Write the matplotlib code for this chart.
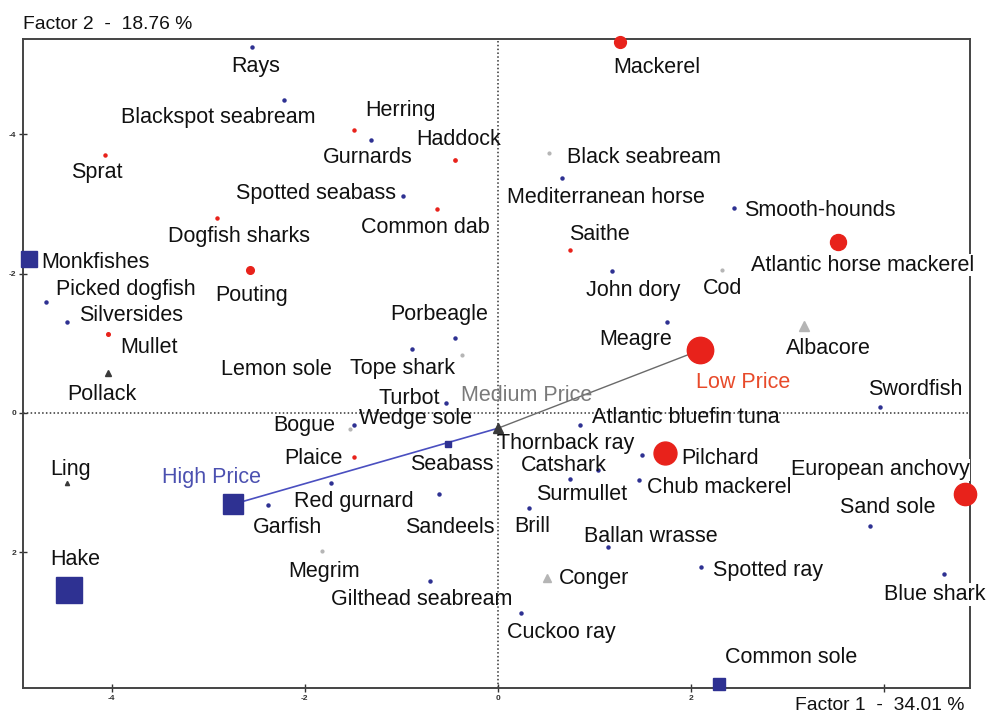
import matplotlib
matplotlib.use("Agg")
import matplotlib.pyplot as plt

plt.rcParams['font.family'] = ['Liberation Sans', 'DejaVu Sans']

# species coordinates on the first two factors (Factor 2 axis runs downward)
species = ["Rays", "Blackspot seabream", "Sprat", "Herring", "Gurnards", "Haddock",
           "Spotted seabass", "Common dab", "Dogfish sharks", "Monkfishes", "Pouting",
           "Picked dogfish", "Silversides", "Mullet", "Pollack", "Lemon sole", "Porbeagle",
           "Tope shark", "Turbot", "Wedge sole", "Bogue", "Atlantic bluefin tuna",
           "Thornback ray", "Pilchard", "Seabass", "Catshark", "Plaice", "Red gurnard",
           "Garfish", "Surmullet", "Chub mackerel", "Sandeels", "Brill", "Ballan wrasse",
           "Megrim", "Conger", "Spotted ray", "Gilthead seabream", "Cuckoo ray",
           "Common sole", "Blue shark", "Sand sole", "European anchovy", "Swordfish",
           "Albacore", "Meagre", "John dory", "Cod", "Saithe", "Atlantic horse mackerel",
           "Smooth-hounds", "Mediterranean horse", "Black seabream", "Mackerel", "Ling",
           "Hake"]
factor1 = [-2.55, -2.22, -4.07, -1.49, -1.32, -0.45, -0.98, -0.63, -2.91, -4.86, -2.57,
           -4.68, -4.46, -4.04, -4.04, -0.37, -0.44, -0.89, -0.54, -1.49, -1.53, 0.85,
           1.49, 1.73, -0.52, 1.04, -1.49, -1.73, -2.38, 0.75, 1.46, -0.61, 0.32, 1.14,
           -1.82, 0.51, 2.10, -0.70, 0.24, 2.29, 4.62, 3.85, 4.84, 3.96, 3.17, 1.75,
           1.18, 2.32, 0.75, 3.52, 2.45, 0.66, 0.53, 1.26, -4.46, -4.44]
factor2 = [-5.25, -4.50, -3.70, -4.06, -3.92, -3.63, -3.11, -2.93, -2.80, -2.21, -2.05,
           -1.59, -1.31, -1.13, -0.57, -0.83, -1.08, -0.92, -0.14, 0.17, 0.23, 0.17,
           0.60, 0.57, 0.44, 0.82, 0.63, 1.00, 1.32, 0.95, 0.96, 1.16, 1.36, 1.92,
           1.99, 2.37, 2.21, 2.41, 2.87, 3.89, 2.32, 1.62, 1.16, -0.09, -1.25, -1.31,
           -2.04, -2.05, -2.34, -2.45, -2.94, -3.37, -3.74, -5.32, 1.00, 2.55]

# price classes
prices = ["High Price", "Medium Price", "Low Price"]
price_f1 = [-2.74, 0.00, 2.09]
price_f2 = [1.31, 0.22, -0.90]

BLUE = "#2e3192"
RED = "#e8221b"
DARK = "#3a3a3a"
GRAY = "#b5b5b5"

# marker, colour, size for each point; anything not listed is a small blue dot
style = {
    "Sprat": ("o", RED, 2.2), "Herring": ("o", RED, 2.2), "Haddock": ("o", RED, 2.4),
    "Common dab": ("o", RED, 2.2), "Dogfish sharks": ("o", RED, 2.2),
    "Pouting": ("o", RED, 5.5), "Mullet": ("o", RED, 2.6), "Plaice": ("o", RED, 2.2),
    "Saithe": ("o", RED, 2.2), "Mackerel": ("o", RED, 8.5),
    "Atlantic horse mackerel": ("o", RED, 11.5), "Pilchard": ("o", RED, 16.5),
    "European anchovy": ("o", RED, 16),
    "Monkfishes": ("s", BLUE, 11), "Hake": ("s", BLUE, 19), "Common sole": ("s", BLUE, 8.5),
    "Seabass": ("s", BLUE, 4),
    "Pollack": ("^", DARK, 4), "Ling": ("^", DARK, 3),
    "Albacore": ("^", GRAY, 7), "Conger": ("^", GRAY, 6),
    "Lemon sole": ("o", GRAY, 2), "Cod": ("o", GRAY, 2), "Megrim": ("o", GRAY, 2),
    "Black seabream": ("o", GRAY, 2), "Bogue": ("o", GRAY, 2),
}

# label offsets in pixels (right, down) from each point
offsets = {
    "Rays": (4, 19), "Blackspot seabream": (-65, 18), "Sprat": (-8, 17),
    "Herring": (46, -20), "Gurnards": (-3, 18), "Haddock": (4, -21),
    "Spotted seabass": (-87, -3), "Common dab": (-12, 19), "Dogfish sharks": (22, 19),
    "Monkfishes": (67, 3), "Pouting": (2, 25), "Picked dogfish": (80, -13),
    "Silversides": (64, -6), "Mullet": (41, 13), "Pollack": (-6, 21),
    "Lemon sole": (-186, 14), "Porbeagle": (-16, -23), "Tope shark": (-10, 20),
    "Turbot": (-37, -5), "Wedge sole": (61, -6), "Bogue": (-46, -3),
    "Atlantic bluefin tuna": (106, -7), "Thornback ray": (-76, -11),
    "Pilchard": (55, 6), "Seabass": (4, 21), "Catshark": (-35, -5), "Plaice": (-41, 2),
    "Red gurnard": (23, 19), "Garfish": (19, 23), "Surmullet": (11, 15),
    "Chub mackerel": (80, 8), "Sandeels": (11, 34), "Brill": (3, 19),
    "Ballan wrasse": (43, -10), "Megrim": (2, 20), "Conger": (47, 1),
    "Spotted ray": (67, 4), "Gilthead seabream": (-9, 19), "Cuckoo ray": (40, 20),
    "Common sole": (72, -26), "Blue shark": (-9, 20), "Sand sole": (18, -18),
    "European anchovy": (-85, -24), "Swordfish": (35, -17), "Albacore": (24, 23),
    "Meagre": (-31, 18), "John dory": (21, 20), "Cod": (1, 18), "Saithe": (29, -15),
    "Atlantic horse mackerel": (25, 23), "Smooth-hounds": (85, 2),
    "Mediterranean horse": (44, 19), "Black seabream": (95, 5), "Mackerel": (37, 25),
    "Ling": (3, -13), "Hake": (6, -31),
    "High Price": (-22, -27), "Medium Price": (29, -33), "Low Price": (43, 32),
}

# labels that run over the right-hand frame get a white backing
over_frame = {"Atlantic horse mackerel", "European anchovy", "Blue shark"}

fig = plt.figure(figsize=(9.88, 7.13), dpi=100)
ax = fig.add_axes([0.0233, 0.0351, 0.9585, 0.9102])

ax.set_xlim(-4.92, 4.89)
ax.set_ylim(3.95, -5.37)

ax.axhline(0, color="#333333", lw=1.1, ls=(0, (1, 1.5)), zorder=1)
ax.axvline(0, color="#333333", lw=1.1, ls=(0, (1, 1.5)), zorder=1)

# price trajectory
ax.plot(price_f1[:2], price_f2[:2], color="#4a4fc0", lw=1.2, zorder=2)
ax.plot(price_f1[1:], price_f2[1:], color="#6a6a6a", lw=1.0, zorder=2)

for name, x, y in zip(species, factor1, factor2):
    mk, col, ms = style.get(name, ("o", BLUE, 2.2))
    ax.plot(x, y, marker=mk, color=col, ms=ms, mec=col, ls="none", zorder=3, clip_on=False)
    dx, dy = offsets[name]
    bbox = dict(facecolor="white", edgecolor="none", pad=0.5) if name in over_frame else None
    ax.annotate(name, (x, y), xytext=(dx, -dy), textcoords="offset pixels",
                ha="center", va="center", fontsize=15.5, color="#111111", zorder=4,
                bbox=bbox, annotation_clip=False)

price_style = [("s", BLUE, 15, "#4b50b0"), ("^", DARK, 7.5, "#7a7a7a"), ("o", RED, 19, "#e84a2a")]
for name, x, y, (mk, col, ms, tcol) in zip(prices, price_f1, price_f2, price_style):
    ax.plot(x, y, marker=mk, color=col, ms=ms, mec=col, ls="none", zorder=3)
    dx, dy = offsets[name]
    ax.annotate(name, (x, y), xytext=(dx, -dy), textcoords="offset pixels",
                ha="center", va="center", fontsize=15.5, color=tcol, zorder=4)

ax.set_xticks([-4, -2, 0, 2, 4])
ax.set_xticklabels(["-4", "-2", "0", "2", ""])
ax.set_yticks([-4, -2, 0, 2])
ax.set_yticklabels(["-4", "-2", "0", "2"])
ax.tick_params(direction="inout", length=6, width=1, labelsize=6, colors="#333333", pad=2)
for lab in ax.get_xticklabels() + ax.get_yticklabels():
    lab.set_fontweight("bold")

for sp in ax.spines.values():
    sp.set_color("#444444")
    sp.set_linewidth(1.4)

fig.text(0.0233, 0.966, "Factor 2  -  18.76 %", fontsize=13.9, ha="left", va="center", color="#111111")
fig.text(0.976, 0.011, "Factor 1  -  34.01 %", fontsize=13.9, ha="right", va="center", color="#111111")

fig.savefig("out.png", dpi=100, facecolor="white")
